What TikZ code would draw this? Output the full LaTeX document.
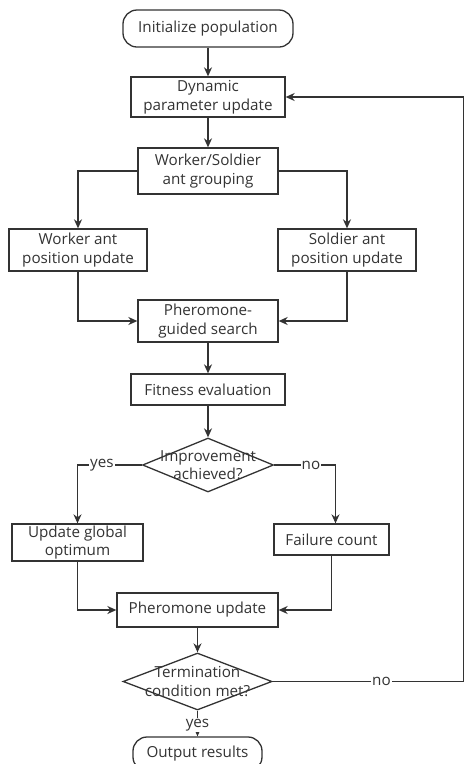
\documentclass[tikz,border=0pt]{standalone}
\usepackage{fontspec}
\setmainfont{Open Sans}
\usepackage{tikz}
\usetikzlibrary{shapes.geometric}
\usetikzlibrary{arrows.meta}

\definecolor{linegray}{HTML}{333333}

\begin{document}
\begin{tikzpicture}[
        x=1pt, y=-1pt,
        every node/.style={text=linegray, font=\fontsize{15.2}{18.5}\selectfont},
        flow/.style={draw=linegray, line width=1.3pt, -{Stealth[length=9pt,width=8pt]}},
        proc/.style={draw=linegray, line width=1.3pt, rectangle, align=center, inner sep=0pt, minimum width=#1},
        proc/.default=140pt,
        term/.style={draw=linegray, line width=1.3pt, rectangle, rounded corners=14pt, align=center, inner sep=0pt, minimum width=#1, minimum height=34pt},
        decision/.style={draw=linegray, line width=1.3pt, diamond, inner sep=0pt, minimum width=#1, minimum height=54pt},
        tag/.style={fill=white, inner sep=1pt},
    ]
    \useasboundingbox (0,0) rectangle (464,764);
    % start
    \node[term=170pt, minimum height=37pt] (init) at (208,28.5) {Initialize population};
    % dynamic parameters
    \node[proc=154pt, minimum height=40pt] (dyn) at (208,97) {Dynamic\\parameter update};
    % grouping
    \node[proc=140pt, minimum height=46pt] (grp) at (208,171) {Worker/Soldier\\ant grouping};
    % two groups
    \node[proc=138pt, minimum height=42pt] (worker) at (78,250) {Worker ant\\position update};
    \node[proc=138pt, minimum height=42pt] (soldier) at (347,250) {Soldier ant\\position update};
    % search
    \node[proc=140pt, minimum height=42pt] (search) at (208,321) {Pheromone-\\guided search};
    \node[proc=154pt, minimum height=31pt] (fit) at (208,389.5) {Fitness evaluation};
    % first decision
    \node[decision=131pt] (imp) at (208,465) {};
    \node (imptxt) at (imp.center) [align=center] {Improvement\\achieved?};
    \node[proc=131pt, minimum height=37pt] (best) at (77.5,542.5) {Update global\\optimum};
    \node[proc=115pt, minimum height=31pt] (fail) at (331.5,539.5) {Failure count};
    % pheromone
    \node[proc=161pt, minimum height=34pt] (pher) at (197.5,610) {Pheromone update};
    % second decision
    \node[decision=149pt, minimum height=57pt] (stop) at (197.5,681.5) {};
    \node (stoptxt) at (stop.center) [align=center] {Termination\\condition met?};
    % end
    \node[term=129pt, minimum height=34pt] (out) at (197.5,754) {Output results};
    \coordinate (loop) at (463.5,97);

    \draw[flow] (init) -- (dyn);
    \draw[flow] (dyn) -- (grp);
    \draw[flow] (grp.west) -| (worker.north);
    \draw[flow] (grp.east) -| (soldier.north);
    \draw[flow] (worker.south) |- (search.west);
    \draw[flow] (soldier.south) |- (search.east);
    \draw[flow] (search) -- (fit);
    \draw[flow] (fit) -- (imp.north);
    % yes / no
    \draw[flow] (imp.west) -| node[tag, pos=0.31]{yes} (best.north);
    \draw[flow] (imp.east) -| node[tag, pos=0.3]{no} ([xshift=4pt]fail.north);
    \draw[flow] (best.south) |- (pher.west);
    \draw[flow] (fail.south) |- (pher.east);
    \draw[flow] (pher) -- (stop.north);
    \draw[flow] (stop.south) -- node[tag, pos=0.55]{yes} (out.north);
    % loop back
    \draw[flow] (stop.east) -- node[tag, pos=0.57]{no} (stop.east -| loop) |- (dyn.east);
\end{tikzpicture}
\end{document}
